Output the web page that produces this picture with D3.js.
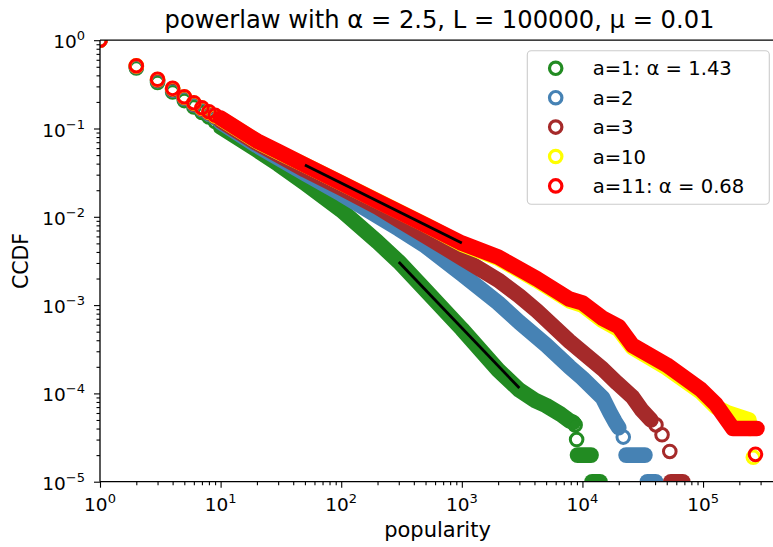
<!DOCTYPE html>
<html><head><meta charset="utf-8">
<script src="https://cdn.jsdelivr.net/npm/d3@7"></script>
<style>
html,body{margin:0;padding:0;background:#fff;}
text{font-family:"DejaVu Sans",sans-serif;}
</style></head>
<body><svg id="chart" width="773" height="547"></svg>
<script>
// ---------- DATA ----------
const titleText = "powerlaw with α = 2.5, L = 100000, μ = 0.01";
const xLabel = "popularity";
const yLabel = "CCDF";
const seriesNames = ["a=1: α = 1.43", "a=2", "a=3", "a=10", "a=11: α = 0.68"];
const seriesColors = ["#228b22", "#4682b4", "#a52a2a", "#ffff00", "#ff0000"];

const popHead = [1, 2, 3, 4, 5, 6, 7, 8, 9];
const greenHead  = [1, 0.484, 0.332, 0.259, 0.207, 0.175, 0.152, 0.135, 0.120];
const blueHead   = [1, 0.500, 0.347, 0.272, 0.219, 0.186, 0.163, 0.146, 0.132];
const brownHead  = [1, 0.505, 0.352, 0.277, 0.223, 0.190, 0.167, 0.150, 0.136];
const yellowHead = [1, 0.512, 0.359, 0.283, 0.227, 0.194, 0.170, 0.153, 0.139];
const redHead    = [1, 0.514, 0.361, 0.285, 0.229, 0.196, 0.172, 0.155, 0.141];

const greenBandX = [10, 20, 30, 50, 100, 200, 300, 500, 1000, 2000, 3000, 4000, 5000, 6600, 7800, 8400];
const greenBandY = [0.104, 0.0571, 0.0396, 0.0241, 0.0119, 0.0052, 0.0031, 0.00148, 0.000536, 0.000184, 0.000109, 0.000084, 0.000073, 0.000058, 0.000049, 0.000047];
const blueBandX = [10, 20, 50, 100, 200, 300, 500, 1000, 2000, 3000, 5000, 7800, 10000, 14700, 17000, 18600, 20000];
const blueBandY = [0.118, 0.064, 0.031, 0.0181, 0.0102, 0.0073, 0.00467, 0.00225, 0.00106, 0.00064, 0.000353, 0.0002, 0.000149, 0.000089, 0.00006, 0.000048, 0.000041];
const brownBandX = [10, 20, 50, 100, 200, 300, 500, 1000, 2000, 3000, 4200, 7800, 14700, 19400, 26000, 31000, 37000];
const brownBandY = [0.123, 0.068, 0.034, 0.0212, 0.0129, 0.0092, 0.00607, 0.00341, 0.00192, 0.00127, 0.00086, 0.00039, 0.000189, 0.000131, 0.000091, 0.000065, 0.00005];
const yellowBandX = [10, 20, 30, 50, 100, 200, 500, 1000, 2000, 4200, 7800, 10000, 14700, 20000, 26000, 50000, 95000, 128000, 160000, 240000, 245000];
const yellowBandY = [0.129, 0.0715, 0.054, 0.0385, 0.0242, 0.0151, 0.0081, 0.0049, 0.0034, 0.0019, 0.00112, 0.001, 0.00067, 0.00053, 0.00033, 0.000195, 0.000105, 0.00007, 0.00006, 0.00005, 0.00004];
const redBandX = [10, 20, 30, 50, 100, 200, 500, 1000, 2000, 4200, 7800, 10000, 14700, 20000, 26000, 50000, 95000, 128000, 150000, 177000, 280000];
const redBandY = [0.131, 0.0723, 0.0548, 0.0387, 0.0241, 0.0150, 0.00806, 0.00503, 0.0035, 0.00198, 0.00117, 0.00106, 0.00071, 0.00057, 0.00035, 0.00021, 0.000112, 0.000075, 0.000055, 0.00004, 0.00004];

// tail segments: single point = isolated marker, two points = run of markers
const greenTail  = [[[8700, 4.4e-5]], [[8950, 3.0e-5]], [[9100, 2e-5], [11800, 2e-5]], [[12000, 1e-5], [14000, 1e-5]]];
const blueTail   = [[[21800, 3.2e-5]], [[23000, 2e-5], [33000, 2e-5]], [[34500, 1e-5], [40500, 1e-5]]];
const brownTail  = [[[40700, 4.4e-5]], [[45700, 3.4e-5]], [[53000, 2.2e-5]], [[54000, 1e-5], [68000, 1e-5]]];
const yellowTail = [[[261000, 1.89e-5]]];
const redTail    = [[[272000, 2.04e-5]]];

const fitGreenX = [300, 3000], fitGreenY = [3.08e-3, 1.15e-4];
const fitRedX = [50, 1000], fitRedY = [0.0387, 0.00505];

const xTickVals = [1, 10, 100, 1000, 10000, 100000];
const xTickExp = ["0", "1", "2", "3", "4", "5"];
const yTickVals = [1, 0.1, 0.01, 0.001, 0.0001, 0.00001];
const yTickExp = ["0", "−1", "−2", "−3", "−4", "−5"];

// ---------- LAYOUT ----------
const svg = d3.select("#chart");
const L = 100, R = 775, T = 40.2, B = 481.7;
const x = d3.scaleLog().domain([1, 395000]).range([L, R]);
const y = d3.scaleLog().domain([1e-5, 1]).range([B, T]);

svg.append("defs").append("clipPath").attr("id", "clip")
  .append("rect").attr("x", L).attr("y", T).attr("width", R - L).attr("height", B - T);

const plot = svg.append("g").attr("clip-path", "url(#clip)");
const R0 = 6.3, SW = 3.0;

const seriesData = [
  {head: greenHead, bx: greenBandX, by: greenBandY, tail: greenTail},
  {head: blueHead, bx: blueBandX, by: blueBandY, tail: blueTail},
  {head: brownHead, bx: brownBandX, by: brownBandY, tail: brownTail},
  {head: yellowHead, bx: yellowBandX, by: yellowBandY, tail: yellowTail},
  {head: redHead, bx: redBandX, by: redBandY, tail: redTail}
];

const line = d3.line().x(d => x(d[0])).y(d => y(d[1]));

seriesData.forEach((s, i) => {
  const col = seriesColors[i];
  const g = plot.append("g");
  const band = s.bx.map((v, k) => [v, s.by[k]]);
  const segs = [band].concat(s.tail.filter(t => t.length > 1));
  segs.forEach(seg => {
    g.append("path").attr("d", line(seg)).attr("fill", "none")
      .attr("stroke", col).attr("stroke-width", 2 * R0 + SW)
      .attr("stroke-linecap", "round").attr("stroke-linejoin", "round");
  });
  const pts = popHead.map((v, k) => [v, s.head[k]]);
  s.tail.filter(t => t.length === 1).forEach(t => pts.push(t[0]));
  g.selectAll("circle.p").data(pts).enter().append("circle")
    .attr("cx", d => x(d[0])).attr("cy", d => y(d[1])).attr("r", R0)
    .attr("fill", "none").attr("stroke", col).attr("stroke-width", SW);
});

// fit lines
[[fitGreenX, fitGreenY], [fitRedX, fitRedY]].forEach(f => {
  plot.append("path").attr("d", line(f[0].map((v, k) => [v, f[1][k]])))
    .attr("fill", "none").attr("stroke", "#000").attr("stroke-width", 2.8);
});

// ---------- AXES ----------
const minorX = [], minorY = [];
for (let e = 0; e < 6; e++) for (let m = 2; m < 10; m++) { const v = m * Math.pow(10, e); if (v < 395000) minorX.push(v); }
for (let e = -5; e < 0; e++) for (let m = 2; m < 10; m++) minorY.push(m * Math.pow(10, e));

function styleAxis(g) {
  g.select(".domain").remove();
  g.selectAll("line").attr("stroke", "#000").attr("stroke-width", 1.1);
}
svg.append("g").attr("transform", `translate(0,${B})`)
  .call(d3.axisBottom(x).tickValues(minorX).tickSize(3.5).tickFormat("")).call(styleAxis);
svg.append("g").attr("transform", `translate(${L},0)`)
  .call(d3.axisLeft(y).tickValues(minorY).tickSize(3.5).tickFormat("")).call(styleAxis);

svg.append("g").attr("transform", `translate(0,${B})`)
  .call(d3.axisBottom(x).tickValues(xTickVals).tickSize(6).tickFormat("")).call(styleAxis);
svg.append("g").attr("transform", `translate(${L},0)`)
  .call(d3.axisLeft(y).tickValues(yTickVals).tickSize(6).tickFormat("")).call(styleAxis);

// spines
svg.append("path").attr("d", `M${L},${B}H${R}M${L},${T}H${R}M${L},${T}V${B}`)
  .attr("stroke", "#000").attr("stroke-width", 1.3).attr("fill", "none");

// tick labels
xTickVals.forEach((v, k) => {
  const t = svg.append("text").attr("x", x(v)).attr("y", 510.5)
    .attr("text-anchor", "middle").attr("font-size", 18.5).attr("fill", "#000");
  t.append("tspan").text("10");
  t.append("tspan").attr("font-size", 13).attr("dy", -8).text(xTickExp[k]);
});
yTickVals.forEach((v, k) => {
  const t = svg.append("text").attr("x", 85).attr("y", y(v) + 8)
    .attr("text-anchor", "end").attr("font-size", 18.5).attr("fill", "#000");
  t.append("tspan").text("10");
  t.append("tspan").attr("font-size", 13).attr("dy", -8).text(yTickExp[k]);
});

// axis labels & title
svg.append("text").attr("x", (L + R) / 2).attr("y", 537).attr("text-anchor", "middle")
  .attr("font-size", 21).text(xLabel);
svg.append("text").attr("transform", `translate(28,${(T + B) / 2}) rotate(-90)`)
  .attr("text-anchor", "middle").attr("font-size", 20.5).text(yLabel);
svg.append("text").attr("x", (L + R) / 2 + 2).attr("y", 28).attr("text-anchor", "middle")
  .attr("font-size", 24.2).text(titleText);

// ---------- LEGEND ----------
const lg = svg.append("g");
lg.append("rect").attr("x", 527.3).attr("y", 50.7).attr("width", 242).attr("height", 153.6)
  .attr("rx", 4).attr("fill", "#fff").attr("fill-opacity", 0.8)
  .attr("stroke", "#cccccc").attr("stroke-width", 1.1);
seriesNames.forEach((n, i) => {
  const cy = 68.3 + i * 29.4;
  lg.append("circle").attr("cx", 555.7).attr("cy", cy).attr("r", 6.2)
    .attr("fill", "none").attr("stroke", seriesColors[i]).attr("stroke-width", 3.2);
  lg.append("text").attr("x", 592.7).attr("y", cy + 7).attr("font-size", 19.6)
    .attr("fill", "#000").text(n);
});
</script>
</body></html>
